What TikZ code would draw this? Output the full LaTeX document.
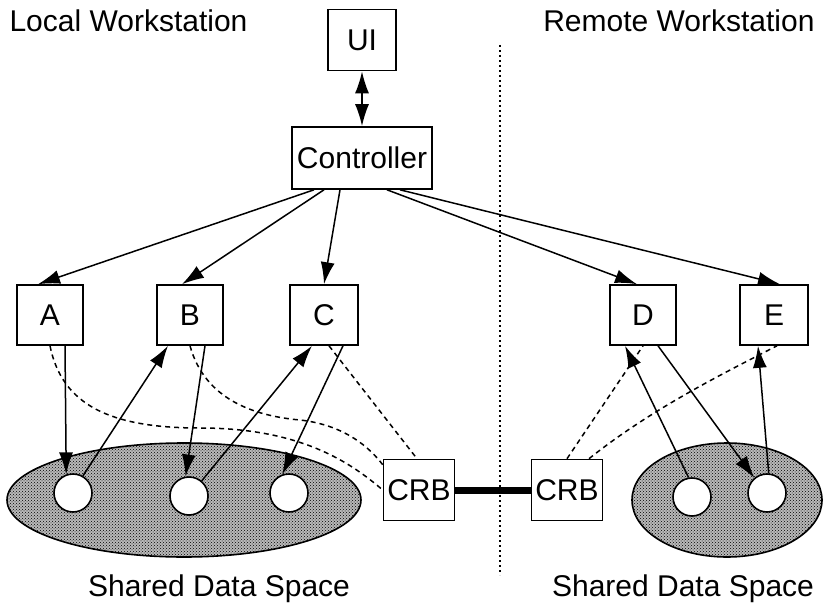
\documentclass[tikz,border=0pt]{standalone}
\usepackage{fontspec}
\setmainfont{Liberation Sans}
\usetikzlibrary{arrows.meta,patterns,shapes.geometric}

\tikzset{
  boite/.style={draw,line width=1.6pt,minimum width=66pt,minimum height=60pt,inner sep=0pt},
  pointe/.tip={Latex[length=22pt,width=14pt]},
  fl/.style={-pointe,line width=1.5pt},
  lien/.style={dashed,dash pattern=on 5pt off 4pt,line width=1.5pt},
  sds/.style={ellipse,draw,line width=1.6pt,fill=gray!55,
    postaction={pattern=crosshatch dots,pattern color=black}},
  trou/.style={circle,draw,line width=1.6pt,fill=white,minimum size=38pt,inner sep=0pt}
}

\begin{document}
\begin{tikzpicture}[x=1pt,y=-1pt,font=\fontsize{30}{34}\selectfont]
\useasboundingbox (0,0) rectangle (824,607);

% Titres
\node[anchor=west] (lw) at (6,21) {Local Workstation};
\node[anchor=east] (rw) at (818,21) {Remote Workstation};
\node (sdl) at (219,589) {Shared Data Space};
\node (sdr) at (683,589) {Shared Data Space};

% Separation
\draw[line width=2pt,dash pattern=on 2pt off 3pt] (500,45) -- (500,575);

% Boites
\node[boite,minimum width=68pt,minimum height=61pt] (ui) at (362,40) {UI};
\node[boite,minimum width=140pt,minimum height=62pt] (ctrl) at (362,158) {Controller};
\node[boite] (a) at (50,315) {A};
\node[boite] (b) at (190,315) {B};
\node[boite,minimum width=68pt] (c) at (324,315) {C};
\node[boite] (d) at (643,315) {D};
\node[boite,minimum width=68pt] (e) at (774,315) {E};
\node[boite,minimum width=71pt,minimum height=61pt] (crbl) at (419,490) {CRB};
\node[boite,minimum width=71pt,minimum height=61pt] (crbr) at (567,490) {CRB};

% Espaces partages
\node[sds,minimum width=354pt,minimum height=114pt] (sdsl) at (184,500) {};
\node[sds,minimum width=190pt,minimum height=114pt] (sdsr) at (727,500) {};
\node[trou] (o1) at (73,493) {};
\node[trou] (o2) at (189,496) {};
\node[trou] (o3) at (289,493) {};
\node[trou] (o4) at (692,497) {};
\node[trou] (o5) at (767,493) {};

% Controleur
\draw[pointe-pointe,line width=1.6pt] (ui) -- (ctrl);
\draw[fl] ([xshift=-48pt]ctrl.south) -- ([xshift=-12pt]a.north);
\draw[fl] ([xshift=-38pt]ctrl.south) -- ([xshift=-8pt]b.north);
\draw[fl] ([xshift=-22pt]ctrl.south) -- (c.north);
\draw[fl] ([xshift=25pt]ctrl.south) -- ([xshift=-6pt]d.north);
\draw[fl] ([xshift=38pt]ctrl.south) -- ([xshift=6pt]e.north);

% Acces aux donnees
\draw[fl] ([xshift=15pt]a.south) -- (o1.110);
\draw[fl] (o1.60) -- ([xshift=-22pt]b.south);
\draw[fl] ([xshift=15pt]b.south) -- (o2.100);
\draw[fl] (o2.50) -- ([xshift=-12pt]c.south);
\draw[fl] ([xshift=19pt]c.south) -- (o3.110);
\draw[fl] (o4.100) -- ([xshift=-18pt]d.south);
\draw[fl] ([xshift=15pt]d.south) -- (o5.130);
\draw[fl] (o5.85) -- ([xshift=-16pt]e.south);

% Liens CRB
\draw[lien] (a.south) .. controls (62,405) and (110,428) .. (200,428)
  .. controls (300,428) and (350,462) .. (crbl.west);
\draw[lien] (b.south) .. controls (205,400) and (255,416) .. (300,420)
  .. controls (345,425) and (370,448) .. ([yshift=-6pt]crbl.north west);
\draw[lien] ([xshift=5pt]c.south) -- ([xshift=-2pt]crbl.north);
\draw[lien] (crbr.north) -- (d.south);
\draw[lien] ([xshift=22pt]crbr.north) .. controls (650,410) and (720,375) .. ([xshift=3pt]e.south);
\draw[line width=7pt] (crbl.east) -- (crbr.west);
\end{tikzpicture}
\end{document}
